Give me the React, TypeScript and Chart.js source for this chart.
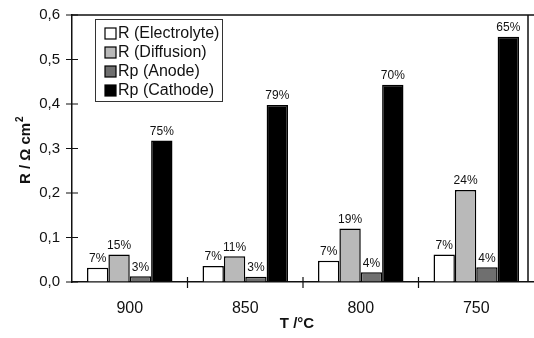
import React, { useEffect, useRef } from 'react';
import { Chart, registerables } from 'chart.js';

Chart.register(...registerables);

const categories = ['900', '850', '800', '750'];
const seriesLabels = ['R (Electrolyte)', 'R (Diffusion)', 'Rp (Anode)', 'Rp (Cathode)'];
const electrolyte = [0.032, 0.036, 0.048, 0.062];
const diffusion = [0.062, 0.058, 0.12, 0.207];
const anode = [0.013, 0.012, 0.022, 0.033];
const cathode = [0.318, 0.398, 0.443, 0.551];
const pctElectrolyte = ['7%', '7%', '7%', '7%'];
const pctDiffusion = ['15%', '11%', '19%', '24%'];
const pctAnode = ['3%', '3%', '4%', '4%'];
const pctCathode = ['75%', '79%', '70%', '65%'];
const colors = ['#ffffff', '#b9b9b9', '#6f6f6f', '#000000'];
const yMin = 0;
const yMax = 0.6;
const yStep = 0.1;
const xTitle = 'T /°C';
const yTitle = 'R / Ω cm';

const FONT = '"Liberation Sans", Arial, sans-serif';
const TEXT = '#111';

const pctLists = [pctElectrolyte, pctDiffusion, pctAnode, pctCathode];

const customPlugin = {
  id: 'custom',
  afterDraw(chart: any) {
    const ctx = chart.ctx;
    const area = chart.chartArea;
    const xs = chart.scales.x;
    const ys = chart.scales.y;
    ctx.save();
    // frame lines
    ctx.strokeStyle = '#111';
    ctx.lineWidth = 1.5;
    ctx.beginPath();
    ctx.moveTo(area.left, area.top);
    ctx.lineTo(area.right, area.top);
    ctx.moveTo(528, area.top);
    ctx.lineTo(528, area.bottom);
    ctx.stroke();
    // y tick marks
    ctx.lineWidth = 1.2;
    ctx.beginPath();
    ys.ticks.forEach((t: any) => {
      const y = ys.getPixelForValue(t.value);
      ctx.moveTo(area.left - 6, y);
      ctx.lineTo(area.left + 6, y);
    });
    // x tick marks between categories
    for (let i = 1; i < categories.length; i++) {
      const x = (xs.getPixelForValue(i - 1) + xs.getPixelForValue(i)) / 2;
      ctx.moveTo(x, area.bottom - 5);
      ctx.lineTo(x, area.bottom + 6);
    }
    ctx.stroke();

    // percentage labels
    ctx.fillStyle = TEXT;
    ctx.textAlign = 'center';
    ctx.textBaseline = 'bottom';
    ctx.font = '12px "Liberation Sans Narrow", ' + FONT;
    chart.data.datasets.forEach((ds: any, di: number) => {
      const meta = chart.getDatasetMeta(di);
      meta.data.forEach((el: any, i: number) => {
        ctx.fillText(pctLists[di][i], el.x, el.y - 3);
      });
    });

    // legend
    const lx = 95, ly = 19, lw = 127, lh = 82;
    ctx.fillStyle = '#fff';
    ctx.fillRect(lx, ly, lw, lh);
    ctx.strokeStyle = '#333';
    ctx.lineWidth = 1;
    ctx.strokeRect(lx + 0.5, ly + 0.5, lw, lh);
    ctx.font = '16px ' + FONT;
    ctx.textAlign = 'left';
    ctx.textBaseline = 'middle';
    chart.data.datasets.forEach((ds: any, di: number) => {
      const cy = ly + 14 + di * 19;
      ctx.fillStyle = ds.backgroundColor;
      ctx.fillRect(105, cy - 5, 11, 11);
      ctx.strokeStyle = '#000';
      ctx.lineWidth = 1.2;
      ctx.strokeRect(105, cy - 5, 11, 11);
      ctx.fillStyle = TEXT;
      ctx.fillText(ds.label, 118, cy + 1);
    });

    // axis titles
    ctx.font = 'bold 15px ' + FONT;
    ctx.fillStyle = TEXT;
    ctx.textAlign = 'center';
    ctx.textBaseline = 'middle';
    ctx.fillText(xTitle, (area.left + area.right) / 2 - 6, 324);
    ctx.save();
    ctx.translate(26, (area.top + area.bottom) / 2);
    ctx.rotate(-Math.PI / 2);
    const w = ctx.measureText(yTitle).width;
    ctx.fillText(yTitle, -5, 0);
    ctx.font = 'bold 10px ' + FONT;
    ctx.textAlign = 'left';
    ctx.fillText('2', -5 + w / 2 + 1, -6);
    ctx.restore();
    ctx.restore();
  },
};

export default function App() {
  const ref = useRef<HTMLCanvasElement | null>(null);
  useEffect(() => {
    document.body.style.margin = '0';
    if (!ref.current) return;
    const data = [electrolyte, diffusion, anode, cathode];
    const chart = new Chart(ref.current, {
      type: 'bar',
      data: {
        labels: categories,
        datasets: data.map((d, i) => ({
          label: seriesLabels[i],
          data: d,
          backgroundColor: colors[i],
          borderColor: '#000',
          borderWidth: 1.5,
          categoryPercentage: 0.74,
          barPercentage: 1.0,
        })),
      },
      options: {
        responsive: false,
        animation: false,
        layout: { padding: { top: 15, right: 0, left: 0, bottom: 0 } },
        plugins: { legend: { display: false }, tooltip: { enabled: false } },
        scales: {
          x: {
            grid: { display: true, drawOnChartArea: false, drawTicks: false },
            border: { display: true, color: '#111', width: 1.5 },
            ticks: { color: TEXT, font: { family: FONT, size: 16 }, padding: 17 },
            afterFit: (s: any) => { s.height = 56; s.paddingLeft = 0; s.paddingRight = 0; },
          },
          y: {
            min: yMin,
            max: yMax,
            grid: { display: true, drawOnChartArea: false, drawTicks: false },
            border: { display: true, color: '#111', width: 1.5 },
            ticks: {
              stepSize: yStep,
              color: TEXT,
              font: { family: FONT, size: 15 },
              padding: 12,
              callback: (v: any) => Number(v).toFixed(1).replace('.', ','),
            },
            afterFit: (s: any) => { s.width = 72; s.paddingTop = 0; s.paddingBottom = 0; },
          },
        },
      },
      plugins: [customPlugin],
    });
    return () => chart.destroy();
  }, []);
  return (
    <div style={{ width: 534, height: 338, background: '#fff' }}>
      <canvas ref={ref} width={534} height={338} />
    </div>
  );
}
